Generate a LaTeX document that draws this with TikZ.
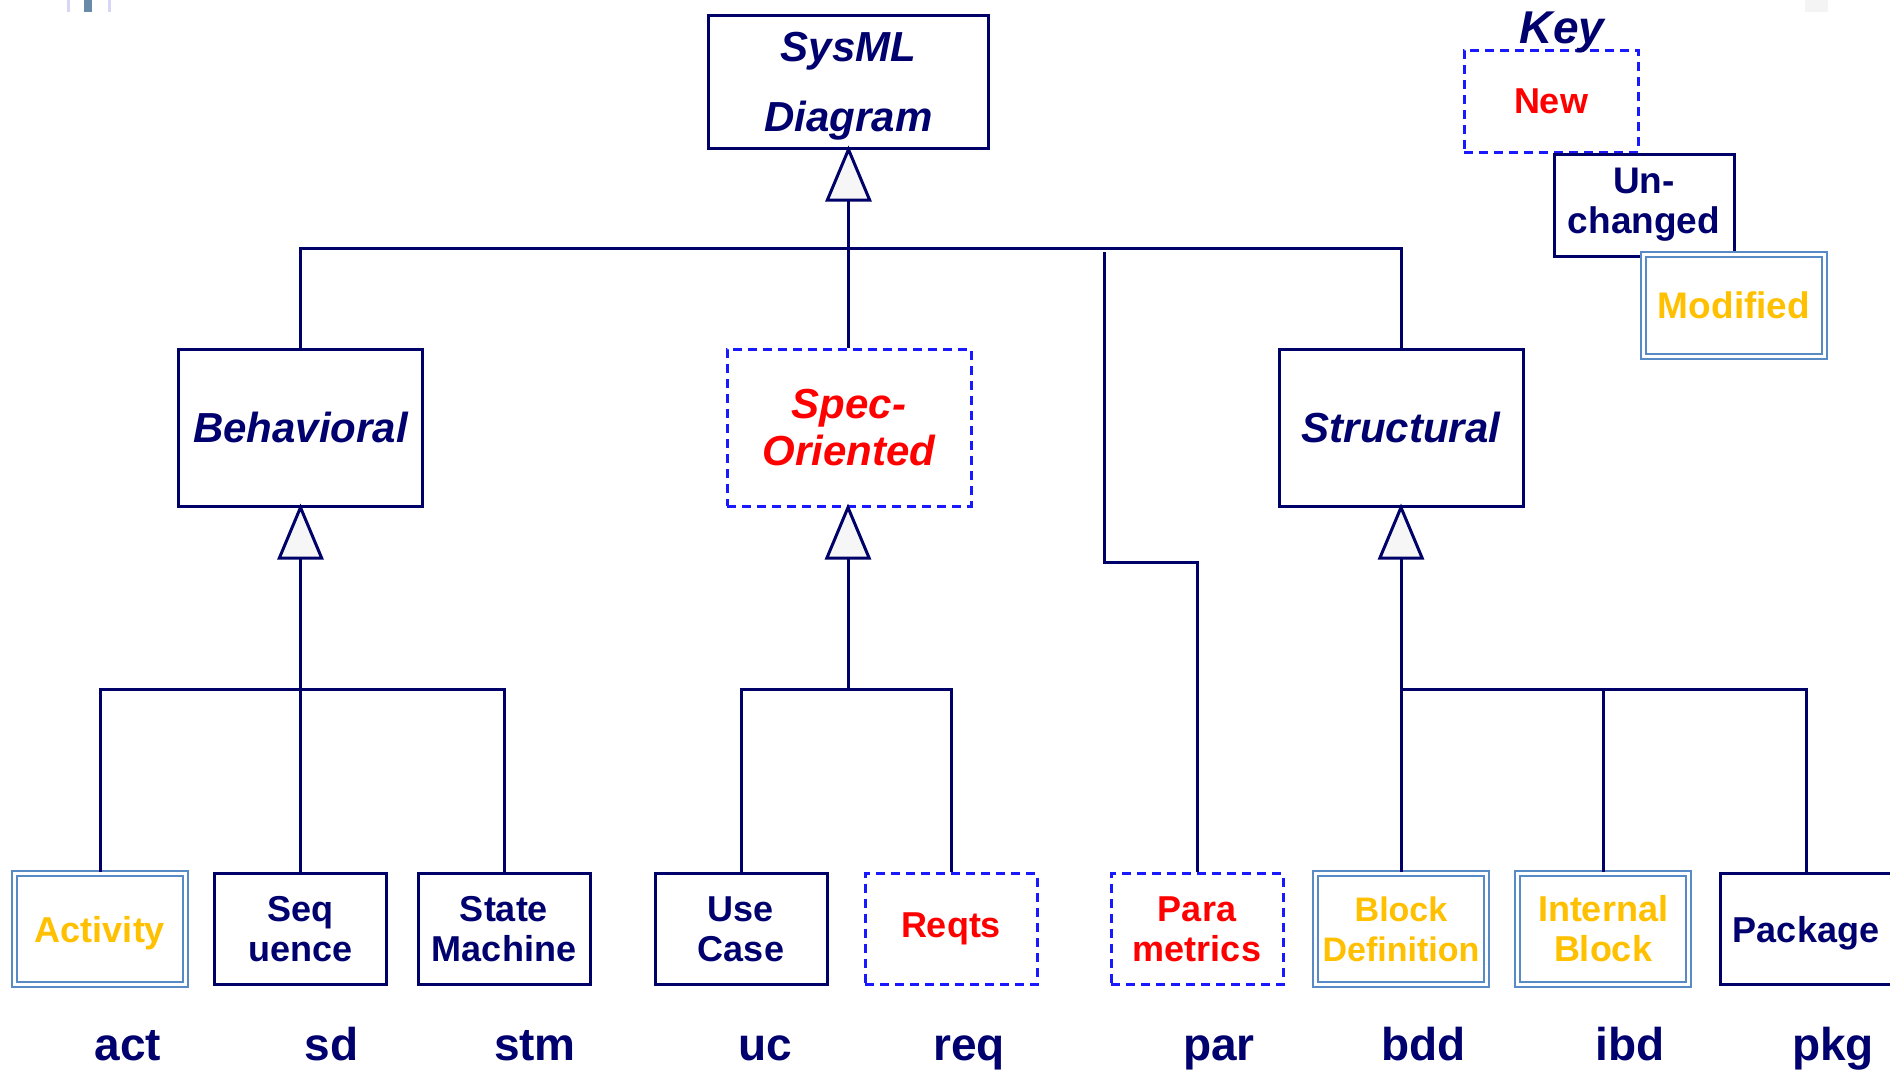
\documentclass[tikz,border=0pt]{standalone}
\usepackage{fontspec}
\setmainfont{Liberation Sans}
\usetikzlibrary{arrows.meta}

\definecolor{tnavy}{RGB}{0,0,110}
\definecolor{lnavy}{RGB}{0,0,105}
\definecolor{dblue}{RGB}{25,25,255}
\definecolor{mblue}{RGB}{88,138,198}
\definecolor{tred}{RGB}{255,0,0}
\definecolor{tgold}{RGB}{255,192,0}
\definecolor{trifill}{RGB}{246,246,246}
\definecolor{lav}{RGB}{214,214,246}
\definecolor{slate}{RGB}{106,138,170}
\definecolor{pale}{RGB}{244,244,244}

\newcommand\sizept[2]{\fontsize{#1}{#2}\selectfont}

\tikzset{
  conn/.style={draw=lnavy, line width=3pt},
  gen/.style={conn, shorten >=-4pt, -{Triangle[length=56pt, width=46pt, fill=trifill]}},
  box/.style={draw=lnavy, line width=3pt, fill=white, align=center,
              inner sep=0pt, text=tnavy},
  newbox/.style={box, draw=dblue, dash pattern=on 9pt off 6pt, text=tred},
  modbox/.style={box, draw=mblue, line width=2.4pt, double=white,
                 double distance=3pt, text=tgold},
  topfont/.style={font=\sizept{42}{70}\bfseries\itshape},
  midfont/.style={font=\sizept{42}{47}\bfseries\itshape},
  lowfont/.style={font=\sizept{36}{40}\bfseries},
  lowbox/.style={box, lowfont, minimum width=172pt, minimum height=111pt},
  lownew/.style={newbox, lowfont, minimum width=172pt, minimum height=111pt},
  lowmod/.style={modbox, lowfont, minimum width=171pt, minimum height=111pt},
  flat/.style={text depth=0pt},
  lab/.style={anchor=base, text=tnavy, font=\sizept{46}{50}\bfseries},
}

\begin{document}
\begin{tikzpicture}[x=1pt, y=-1pt]
\useasboundingbox (0,0) rectangle (1890,1072);

% slide remnants along the top edge
\fill[lav] (67,0) rectangle (70,12);
\fill[slate] (84,0) rectangle (92,12);
\fill[lav] (108,0) rectangle (111,12);
\fill[pale] (1805,0) rectangle (1828,12);

% root and the three diagram groups
\node[box, topfont, flat, minimum width=280pt, minimum height=133pt] (sys) at (848.5,81.5) {SysML\\Diagram};
\node[box, midfont, minimum width=244pt, minimum height=157pt] (beh) at (300.5,427.5) {Behavioral};
\node[newbox, midfont, minimum width=244pt, minimum height=157pt] (spec) at (849,427.5) {Spec-\\Oriented};
\node[box, midfont, minimum width=244pt, minimum height=157pt] (str) at (1401,427.5) {Structural};

% concrete diagram kinds
\node[lowmod, flat] (act) at (100,929) {Activity};
\node[lowbox] (seq) at (300.5,929) {Seq\\uence};
\node[lowbox] (stm) at (504,929) {State\\Machine};
\node[lowbox] (uc) at (741,929) {Use\\Case};
\node[lownew] (req) at (951,929) {Reqts};
\node[lownew] (par) at (1197,929) {Para\\metrics};
\node[lowmod, font=\sizept{34}{40}\bfseries] (bdd) at (1401,929) {Block\\Definition};
\node[lowmod] (ibd) at (1603,929) {Internal\\Block};
\node[lowbox, flat] (pkg) at (1806,929) {Package};

% abbreviations
\node[lab] (lact) at (128,1060) {act};
\node[lab] (lsd) at (331.5,1060) {sd};
\node[lab] (lstm) at (535,1060) {stm};
\node[lab] (luc) at (765,1060) {uc};
\node[lab] (lreq) at (969,1060) {req};
\node[lab] (lpar) at (1219,1060) {par};
\node[lab] (lbdd) at (1423.5,1060) {bdd};
\node[lab] (libd) at (1630,1060) {ibd};
\node[lab] (lpkg) at (1833,1060) {pkg};

% junction points of the generalization trees
\coordinate (topbar) at (848.5,248);
\coordinate (bj) at (300.5,689.5);
\coordinate (sj) at (848,689.5);
\coordinate (tj) at (1401,689.5);
\coordinate (partop) at (1104,252);
\coordinate (parjog) at (1104,562);

% top level
\draw[conn] (beh.north) |- (topbar) -| (str.north);
\draw[gen] (spec.north -| sys.south) -- (sys.south);

% behavioral
\draw[conn] (act.north) |- (bj) -| (stm.north);
\draw[conn] (seq.north) -- (bj);
\draw[gen] (bj) -- (beh.south);

% spec-oriented
\draw[conn] (uc.north) |- (sj) -| (req.north);
\draw[gen] (sj) -- (sj |- spec.south);

% structural
\draw[conn] (bdd.north) -- (tj) -| (pkg.north);
\draw[conn] (ibd.north) -- (ibd.north |- tj);
\draw[gen] (tj) -- (str.south);

% parametric
\draw[conn] (partop) -- (parjog) -| (par.north);

% key
\node[newbox, font=\sizept{36}{40}\bfseries, minimum width=174pt, minimum height=102pt] (knew) at (1551,101) {New};
\node[box, font=\sizept{37}{40}\bfseries, minimum width=180pt, minimum height=102pt] (kun) at (1644,205) {Un-\\changed};
\node[modbox, font=\sizept{37}{40}\bfseries, minimum width=181pt, minimum height=102pt] (kmod) at (1734,305.5) {Modified};
\node[anchor=base, text=tnavy, font=\sizept{46}{50}\bfseries\itshape] (key) at (1562,43) {Key};
\end{tikzpicture}
\end{document}
